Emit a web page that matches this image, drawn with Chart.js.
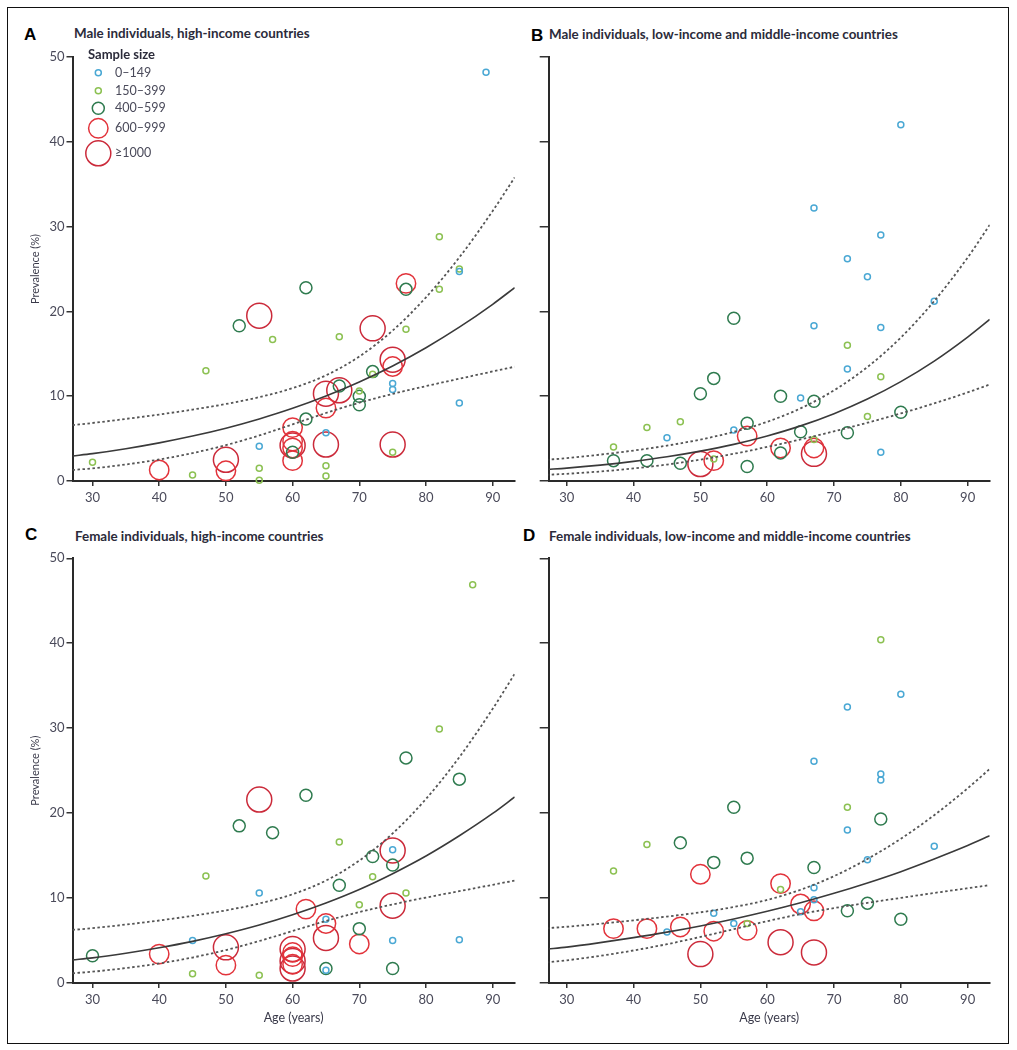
<!DOCTYPE html>
<html>
<head>
<meta charset="utf-8">
<script src="https://cdn.jsdelivr.net/npm/chart.js@4.4.1/dist/chart.umd.min.js"></script>
<style>
body{margin:0;background:#fff;}
#page{position:relative;width:1017px;height:1050px;font-family:Lato,'Open Sans',sans-serif;}
#frame{position:absolute;left:7px;top:7px;width:1002px;height:1037px;box-sizing:border-box;border:1.5px solid #111;}
canvas{position:absolute;}
.letter{position:absolute;font:bold 17px 'Liberation Sans',Arial,sans-serif;line-height:17px;color:#000;}
.title{position:absolute;font-weight:700;font-size:13.4px;line-height:14px;color:#2b2b3a;white-space:nowrap;}
</style>
</head>
<body>
<div id="page">
  <div id="frame"></div>
  <div class="letter" style="left:24px;top:26px">A</div>
  <div class="title" style="left:74px;top:26px">Male individuals, high-income countries</div>
  <div class="letter" style="left:531px;top:27px">B</div>
  <div class="title" style="left:549px;top:27px">Male individuals, low-income and middle-income countries</div>
  <div class="letter" style="left:25px;top:526px">C</div>
  <div class="title" style="left:75px;top:529px">Female individuals, high-income countries</div>
  <div class="letter" style="left:523px;top:527px">D</div>
  <div class="title" style="left:549px;top:529px">Female individuals, low-income and middle-income countries</div>

  <canvas id="chartA" width="510" height="470" style="left:12px;top:45px"></canvas>
  <canvas id="chartB" width="510" height="470" style="left:500px;top:45px"></canvas>
  <canvas id="chartC" width="510" height="490" style="left:12px;top:545px"></canvas>
  <canvas id="chartD" width="510" height="490" style="left:500px;top:545px"></canvas>
</div>
<script>
// sample size classes
const sizeLabels = ['0–149', '150–399', '400–599', '600–999', '≥1000'];
const sizeColors = ['#4aa8d4', '#8cc152', '#2f7b4f', '#e2333b', '#cb2a3a'];
const sizeRadius = [3, 3, 6, 9.7, 12.5];

const ageTicks = [30, 40, 50, 60, 70, 80, 90];
const prevTicks = [0, 10, 20, 30, 40, 50];

// fitted curve + 95% CI
const curveAge = [27, 30, 35, 40, 45, 50, 55, 60, 65, 70, 75, 80, 85, 90, 93.3];

const fitA   = [2.95, 3.23, 3.81, 4.50, 5.30, 6.23, 7.32, 8.57, 10.02, 11.68, 13.57, 15.72, 18.14, 20.84, 22.8];
const upperA = [6.6, 6.84, 7.32, 7.84, 8.42, 9.08, 9.89, 10.95, 12.46, 14.68, 17.74, 21.66, 26.37, 31.85, 35.8];
const lowerA = [1.3, 1.49, 1.95, 2.54, 3.29, 4.23, 5.37, 6.68, 8.02, 9.23, 10.27, 11.19, 12.06, 12.92, 13.48];

const fitB   = [1.37, 1.52, 1.87, 2.31, 2.85, 3.52, 4.32, 5.31, 6.50, 7.94, 9.66, 11.72, 14.14, 16.97, 19.05];
const upperB = [2.5, 2.70, 3.11, 3.59, 4.17, 4.89, 5.79, 6.98, 8.57, 10.69, 13.44, 16.92, 21.22, 26.35, 30.2];
const lowerB = [0.73, 0.85, 1.12, 1.48, 1.94, 2.52, 3.21, 4.02, 4.90, 5.86, 6.87, 7.97, 9.15, 10.45, 11.38];

const fitC   = [2.72, 2.96, 3.51, 4.15, 4.90, 5.79, 6.82, 8.03, 9.42, 11.01, 12.87, 14.95, 17.33, 19.96, 21.9];
const upperC = [6.25, 6.45, 6.88, 7.36, 7.91, 8.55, 9.36, 10.45, 12.06, 14.41, 17.61, 21.67, 26.59, 32.28, 36.4];
const lowerC = [1.15, 1.33, 1.76, 2.30, 3.00, 3.88, 4.94, 6.12, 7.30, 8.35, 9.25, 10.06, 10.81, 11.56, 12.06];

const fitD   = [3.98, 4.22, 4.75, 5.34, 5.99, 6.72, 7.54, 8.45, 9.45, 10.56, 11.78, 13.11, 14.60, 16.18, 17.33];
const upperD = [6.45, 6.62, 6.98, 7.38, 7.82, 8.32, 8.95, 9.78, 10.98, 12.58, 14.60, 16.98, 19.76, 22.92, 25.2];
const lowerD = [2.43, 2.67, 3.20, 3.83, 4.57, 5.42, 6.34, 7.28, 8.12, 8.82, 9.44, 10.02, 10.60, 11.16, 11.52];

// studies: mean age, prevalence (%), sample size class (index into sizeLabels)
const ageA  = [30, 40, 45, 47, 50, 50, 52, 55, 55, 55, 55, 57, 60, 60, 60, 60, 60, 60, 62, 62, 65, 65, 65, 65, 65, 65, 67, 67, 67, 70, 70, 70, 72, 72, 72, 75, 75, 75, 75, 75, 75, 77, 77, 77, 82, 82, 85, 85, 85, 89];
const prevA = [2.2, 1.3, 0.7, 13.0, 2.5, 1.2, 18.3, 19.5, 4.1, 1.5, 0.1, 16.7, 6.3, 4.7, 4.2, 3.9, 3.4, 2.4, 7.3, 22.8, 5.7, 1.8, 0.6, 10.3, 8.6, 4.3, 10.7, 11.2, 17.0, 10.6, 10.0, 9.0, 18.0, 12.9, 12.6, 14.3, 13.5, 11.5, 10.8, 4.3, 3.4, 23.3, 22.6, 17.9, 28.8, 22.6, 24.7, 25.0, 9.2, 48.2];
const sizeA = [1, 3, 1, 1, 4, 3, 2, 4, 0, 1, 1, 1, 3, 3, 4, 3, 2, 3, 2, 2, 0, 1, 1, 4, 3, 4, 4, 2, 1, 1, 2, 2, 4, 2, 1, 4, 3, 0, 0, 4, 1, 3, 2, 1, 1, 1, 0, 1, 0, 0];

const ageB  = [37, 37, 42, 42, 45, 47, 47, 50, 50, 52, 52, 52, 55, 55, 57, 57, 57, 62, 62, 62, 65, 65, 67, 67, 67, 67, 67, 67, 72, 72, 72, 72, 75, 75, 77, 77, 77, 77, 80, 80, 85];
const prevB = [4.0, 2.4, 6.3, 2.4, 5.1, 7.0, 2.1, 10.3, 2.0, 12.1, 2.4, 2.6, 19.2, 6.0, 6.8, 5.3, 1.7, 10.0, 3.9, 3.3, 9.8, 5.8, 9.4, 4.9, 3.9, 3.2, 18.3, 32.2, 5.7, 13.2, 16.0, 26.2, 24.1, 7.6, 18.1, 12.3, 3.4, 29.0, 8.1, 42.0, 21.2];
const sizeB = [1, 2, 1, 2, 0, 1, 2, 2, 4, 2, 3, 1, 2, 0, 2, 3, 2, 2, 3, 2, 0, 2, 2, 1, 3, 4, 0, 0, 2, 0, 1, 0, 0, 1, 0, 1, 0, 0, 2, 0, 0];

const ageC  = [30, 40, 45, 45, 47, 50, 50, 52, 55, 55, 55, 57, 60, 60, 60, 60, 60, 60, 62, 62, 65, 65, 65, 65, 65, 67, 67, 70, 70, 70, 72, 72, 75, 75, 75, 75, 75, 75, 77, 77, 82, 85, 85, 87];
const prevC = [3.2, 3.4, 5.0, 1.1, 12.6, 4.2, 2.1, 18.5, 21.6, 10.6, 0.9, 17.7, 4.0, 3.6, 3.1, 2.6, 2.2, 1.7, 8.7, 22.1, 7.5, 7.0, 5.3, 1.7, 1.5, 16.6, 11.5, 9.2, 6.4, 4.6, 14.9, 12.5, 15.7, 15.6, 13.9, 9.1, 5.0, 1.7, 10.6, 26.5, 29.9, 24.0, 5.1, 46.9];
const sizeC = [2, 3, 0, 1, 1, 4, 3, 2, 4, 0, 1, 2, 4, 3, 3, 4, 3, 4, 3, 2, 0, 3, 4, 2, 0, 1, 2, 1, 2, 3, 2, 1, 0, 4, 2, 4, 0, 2, 1, 2, 1, 2, 0, 1];

const ageD  = [37, 37, 42, 42, 45, 47, 47, 50, 50, 52, 52, 52, 55, 55, 57, 57, 57, 62, 62, 62, 65, 65, 67, 67, 67, 67, 67, 67, 72, 72, 72, 72, 75, 75, 77, 77, 77, 77, 80, 80, 85];
const prevD = [13.2, 6.4, 16.3, 6.4, 6.0, 16.5, 6.6, 12.8, 3.4, 14.2, 8.2, 6.1, 20.7, 7.0, 14.7, 7.0, 6.2, 11.7, 11.0, 4.8, 9.3, 8.4, 13.6, 11.2, 9.8, 8.5, 3.6, 26.1, 8.5, 18.0, 20.7, 32.5, 9.4, 14.5, 19.3, 24.6, 23.9, 40.4, 7.5, 34.0, 16.1];
const sizeD = [1, 3, 1, 3, 0, 2, 3, 3, 4, 2, 0, 3, 2, 0, 2, 1, 3, 3, 1, 4, 3, 0, 2, 0, 0, 3, 4, 0, 2, 0, 1, 0, 2, 0, 2, 0, 0, 1, 2, 0, 0];

Chart.defaults.font.family = "Lato, 'Open Sans', sans-serif";
Chart.defaults.color = '#4a4a5a';

function pointSets(ages, prev, sizes) {
  return sizeLabels.map((lab, k) => ({
    label: lab,
    data: ages.map((a, i) => ({x: a, y: prev[i], s: sizes[i]})).filter(p => p.s === k),
    pointRadius: sizeRadius[k],
    pointBorderColor: sizeColors[k],
    pointBackgroundColor: 'rgba(0,0,0,0)',
    pointBorderWidth: 1.5,
    showLine: false,
    clip: false
  }));
}

function curveSet(vals, dashed) {
  return {
    data: curveAge.map((a, i) => ({x: a, y: vals[i]})),
    showLine: true,
    pointRadius: 0,
    borderColor: dashed ? '#555' : '#3a3a3a',
    borderWidth: dashed ? 1.8 : 1.6,
    borderDash: dashed ? [2.5, 2.5] : [],
    cubicInterpolationMode: 'monotone',
    fill: false
  };
}

// legend for sample size, drawn inside panel A
const sampleLegend = {
  id: 'sampleLegend',
  afterDraw(chart) {
    const c = chart.ctx;
    const rowsY = [27.7, 45.7, 63.3, 83.3, 108.3];
    c.save();
    c.textBaseline = 'middle';
    c.font = "bold 13px Lato, sans-serif";
    c.fillStyle = '#2b2b3a';
    c.fillText('Sample size', 76, 10);
    c.font = "12.5px Lato, sans-serif";
    sizeLabels.forEach((lab, k) => {
      c.beginPath();
      c.lineWidth = 1.5;
      c.strokeStyle = sizeColors[k];
      c.arc(86.3, rowsY[k], sizeRadius[k], 0, Math.PI * 2);
      c.stroke();
      c.fillStyle = '#4a4a5a';
      c.fillText(lab, 103, rowsY[k]);
    });
    c.restore();
  }
};

function drawPanel(id, o) {
  new Chart(document.getElementById(id), {
    type: 'scatter',
    data: {
      datasets: [curveSet(o.fit, false), curveSet(o.upper, true), curveSet(o.lower, true)]
        .concat(pointSets(o.ages, o.prev, o.sizes))
    },
    options: {
      responsive: false,
      animation: false,
      events: [],
      layout: { autoPadding: false, padding: { left: 0, top: o.padTop, right: o.padRight, bottom: 0 } },
      plugins: { legend: { display: false }, tooltip: { enabled: false } },
      scales: {
        x: {
          type: 'linear', min: o.xMin, max: 93.3,
          afterBuildTicks: s => { s.ticks = ageTicks.map(v => ({ value: v })); },
          afterFit: s => { s.height = o.xHeight; },
          ticks: { font: { size: 13 }, padding: 4, color: '#4a4a5a' },
          grid: { drawOnChartArea: false, drawTicks: true, tickLength: 5, color: '#333', lineWidth: 1.5 },
          border: { display: true, color: '#2a2a2a', width: 2 },
          title: { display: o.xTitle, text: 'Age (years)', font: { size: 12.5 }, color: '#3a3a4a', padding: { top: 0, bottom: 9.6 } }
        },
        y: {
          type: 'linear', min: 0, max: 50,
          afterBuildTicks: s => { s.ticks = prevTicks.map(v => ({ value: v })); },
          afterFit: s => { s.width = o.yWidth; },
          ticks: { display: o.yLabels, font: { size: 13 }, padding: 2, color: '#4a4a5a' },
          grid: { drawOnChartArea: false, drawTicks: true, tickLength: o.yTick, color: '#333', lineWidth: 1.5 },
          border: { display: true, color: '#2a2a2a', width: 2 },
          title: { display: o.yLabels, text: 'Prevalence (%)', font: { size: 11 }, color: '#3a3a4a', padding: { top: 16.4, bottom: 0 } }
        }
      }
    },
    plugins: o.extra ? [o.extra] : []
  });
}

drawPanel('chartA', { fit: fitA, upper: upperA, lower: lowerA, ages: ageA, prev: prevA, sizes: sizeA,
  xMin: 27.0, padTop: 12, padRight: 7.3, yWidth: 60.5, xHeight: 34, yTick: 6, yLabels: true, xTitle: false, extra: sampleLegend });
drawPanel('chartB', { fit: fitB, upper: upperB, lower: lowerB, ages: ageB, prev: prevB, sizes: sizeB,
  xMin: 27.3, padTop: 12, padRight: 20.3, yWidth: 48.7, xHeight: 34, yTick: 9, yLabels: false, xTitle: false });
drawPanel('chartC', { fit: fitC, upper: upperC, lower: lowerC, ages: ageC, prev: prevC, sizes: sizeC,
  xMin: 27.0, padTop: 13.3, padRight: 7.3, yWidth: 60.5, xHeight: 52, yTick: 6, yLabels: true, xTitle: true });
drawPanel('chartD', { fit: fitD, upper: upperD, lower: lowerD, ages: ageD, prev: prevD, sizes: sizeD,
  xMin: 27.3, padTop: 13.3, padRight: 20.3, yWidth: 48.7, xHeight: 52, yTick: 9, yLabels: false, xTitle: true });
</script>
</body>
</html>
